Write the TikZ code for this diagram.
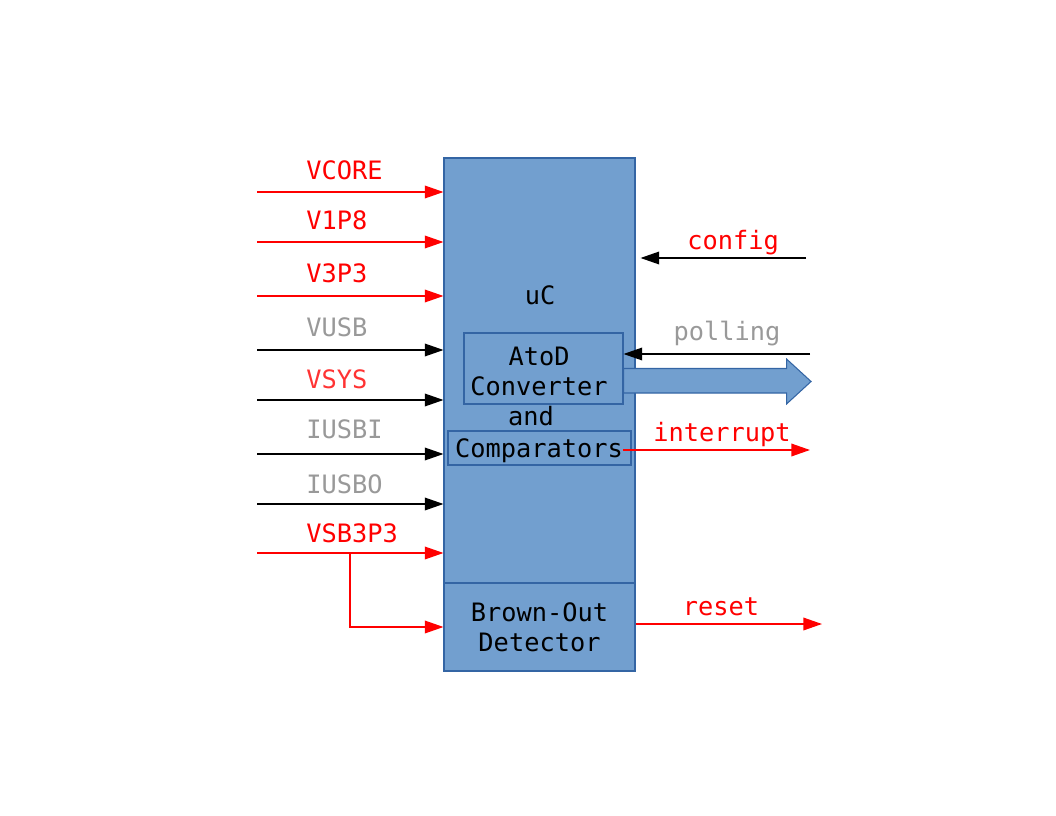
\documentclass[tikz,border=0pt]{standalone}
\usepackage{fontspec}
\setmainfont{DejaVu Sans Mono}
\usepackage{tikz}
\usetikzlibrary{arrows.meta}
\definecolor{boxfill}{HTML}{729FCF}
\definecolor{boxline}{HTML}{3465A4}
\definecolor{sigred}{HTML}{FF0000}
\definecolor{lblgrey}{HTML}{999999}
\definecolor{lblred}{HTML}{FF3333}

\begin{document}
\begin{tikzpicture}[x=0.75pt, y=-0.75pt,
  blk/.style={draw=boxline, fill=boxfill, line width=0.8pt, inner sep=0pt},
  sig/.style={line width=1pt, -{Triangle[length=14pt,width=9.5pt]}},
  txt/.style={font=\fontsize{19}{22.5}\selectfont, inner sep=0pt}]
\useasboundingbox (0,0) rectangle (1056,816);
%%%%% Blocks %%%%%
\node[blk, minimum width=143.25pt, minimum height=318.75pt] (uc) at (539.5,370.5) {};
\node[blk, txt, align=center, minimum width=143.25pt, minimum height=66pt] (bod) at (539.5,627) {Brown-Out\\Detector};
\node[txt] (uclbl) at (540,295) {uC};
\node[blk, minimum width=119.25pt, minimum height=53.25pt] (adc) at (543.5,368.5) {};
\node[blk, minimum width=137.25pt, minimum height=25.5pt] (cmp) at (539.5,448) {};
\node[txt, align=center] (adctxt) at (539,371) {AtoD\\Converter};
\node[txt, anchor=base] (andtxt) at (531,425) {and};
\node[txt, anchor=base] (cmptxt) at (539,457) {Comparators};
%%%%% Data out %%%%%
\filldraw[blk] (adc.east) -- ++(163,0) -- ++(0,-9.5) -- ++(24.5,22.5) -- ++(-24.5,22.5)
  -- ++(0,-11) -- ++(-163,0) -- cycle;
%%%%% Inputs %%%%%
\foreach \nm/\lab/\yy/\by/\lc/\ac in {vcore/VCORE/192/180/sigred/sigred,
    v1p8/V1P8/242/230/sigred/sigred, v3p3/V3P3/296/283/sigred/sigred,
    vusb/VUSB/350/337/lblgrey/black, vsys/VSYS/400/388/lblred/black,
    iusbi/IUSBI/454/438/lblgrey/black, iusbo/IUSBO/504/493/lblgrey/black,
    vsb3p3/VSB3P3/553/542/sigred/sigred}{
  \coordinate (\nm) at (257,\yy);
  \draw[sig, \ac] (\nm) -- (\nm -| uc.west);
  \node[txt, \lc, anchor=base west] (\nm lbl) at (306,\by) {\lab};
}
\coordinate (tap) at (350,553);
\draw[sig, sigred] (tap) |- (bod.west);
%%%%% Right side %%%%%
\coordinate (cfgin) at (806,258);
\draw[sig, shorten >=3.75pt] (cfgin) -- (cfgin -| uc.east);
\node[txt, sigred, anchor=base] (cfglbl) at (733,250) {config};
\coordinate (pollin) at (810,354);
\draw[sig] (pollin) -- (pollin -| adc.east);
\node[txt, lblgrey, anchor=base] (polllbl) at (727,340) {polling};
\coordinate (irqout) at (810,450);
\draw[sig, sigred] (irqout -| cmptxt.east) -- (irqout);
\node[txt, sigred, anchor=base] (irqlbl) at (722,441) {interrupt};
\coordinate (rstout) at (822,624);
\draw[sig, sigred] (rstout -| bod.east) -- (rstout);
\node[txt, sigred, anchor=base] (rstlbl) at (721,615) {reset};
\end{tikzpicture}
\end{document}
